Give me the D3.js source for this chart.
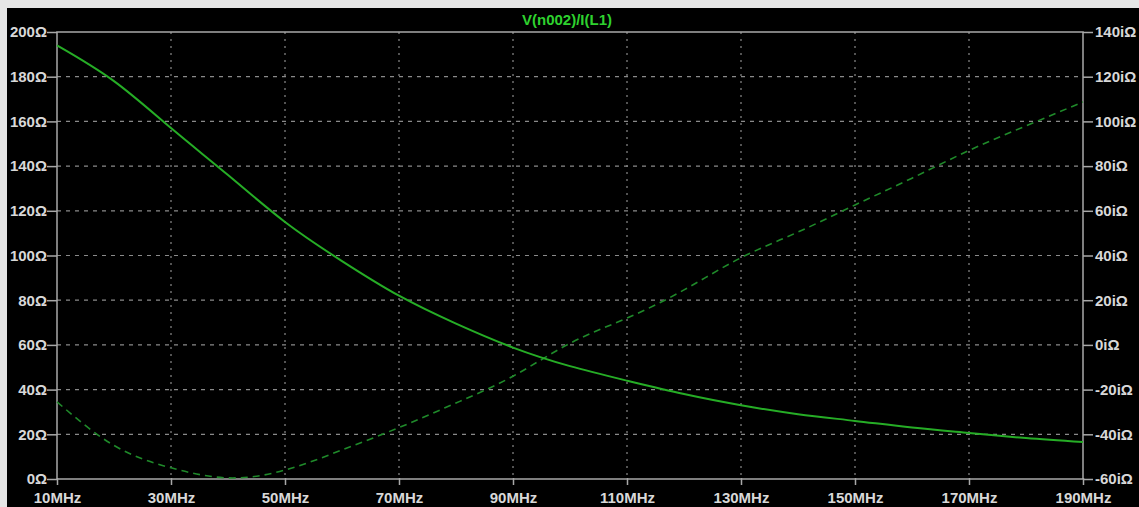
<!DOCTYPE html>
<html>
<head>
<meta charset="utf-8">
<script src="https://cdn.jsdelivr.net/npm/d3@7"></script>
<style>
  html, body { margin: 0; padding: 0; background: #e6e6e6; }
  svg { display: block; }
</style>
</head>
<body>
<svg id="chart" width="1139" height="507"></svg>
<script>
const title = "V(n002)/I(L1)";
const freqMHz = [10, 20, 30, 40, 50, 60, 70, 80, 90, 100, 110, 120, 130, 140, 150, 160, 170, 180, 190];
const magnitudeOhm = [194, 178, 157, 136, 115, 97.5, 82, 69.5, 58.8, 50.5, 44, 38, 33, 29, 26, 23, 20.6, 18.3, 16.5];
const phaseDeg = [-25.5, -45, -55, -59.5, -56, -47, -37, -26, -14, 0.7, 12, 24.6, 39, 50.5, 62.6, 74.6, 87, 98, 108.7];
const xTicks = [10, 30, 50, 70, 90, 110, 130, 150, 170, 190];
const leftTicks = [0, 20, 40, 60, 80, 100, 120, 140, 160, 180, 200];
const rightTicks = [-60, -40, -20, 0, 20, 40, 60, 80, 100, 120, 140];

const W = 1139, H = 507;
const m = { left: 57, right: 1083, top: 32, bottom: 479 };
const svg = d3.select("#chart");

// panel background
svg.append("rect").attr("x", 7).attr("y", 8).attr("width", W - 7).attr("height", H - 8).attr("fill", "#000");

const x = d3.scaleLinear().domain([10, 190]).range([m.left, m.right]);
const yL = d3.scaleLinear().domain([0, 200]).range([m.bottom, m.top]);
const yR = d3.scaleLinear().domain([-60, 140]).range([m.bottom, m.top]);

const gridColor = "#8a8a8a";
const axisColor = "#a8a8a8";
const textColor = "#d8d8d8";
const font = "'Liberation Sans', Arial, sans-serif";

// grid
const grid = svg.append("g");
grid.selectAll("line.v").data(xTicks.slice(1, -1)).join("line")
  .attr("x1", d => x(d)).attr("x2", d => x(d))
  .attr("y1", m.top).attr("y2", m.bottom)
  .attr("stroke", gridColor).attr("stroke-width", 1.2).attr("stroke-dasharray", "2,5");
grid.selectAll("line.h").data(leftTicks.slice(1, -1)).join("line")
  .attr("x1", m.left).attr("x2", m.right)
  .attr("y1", d => yL(d)).attr("y2", d => yL(d))
  .attr("stroke", gridColor).attr("stroke-width", 1.2).attr("stroke-dasharray", "4,5");

// axes
const axB = d3.axisBottom(x).tickValues(xTicks).tickSize(7).tickFormat(d => d + "MHz");
const axL = d3.axisLeft(yL).tickValues(leftTicks).tickSize(10).tickFormat(d => d + "Ω");
const axR = d3.axisRight(yR).tickValues(rightTicks).tickSize(10).tickFormat(d => d + "iΩ");

function style(g) {
  g.select(".domain").remove();
  g.selectAll("line").attr("stroke", axisColor).attr("stroke-width", 1.5);
  g.selectAll("text").attr("fill", textColor).attr("font-family", font)
    .attr("font-size", 15).attr("font-weight", "bold");
}
svg.append("g").attr("transform", `translate(0,${m.bottom})`).call(axB).call(style)
  .call(g => g.selectAll("line").attr("y1", -1).attr("y2", 6))
  .call(g => g.selectAll("text").attr("y", 13));
svg.append("g").attr("transform", `translate(${m.left},0)`).call(axL).call(style)
  .call(g => g.selectAll("text").attr("x", -10));
svg.append("g").attr("transform", `translate(${m.right},0)`).call(axR).call(style)
  .call(g => g.selectAll("text").attr("x", 12));

// frame
svg.append("rect").attr("x", m.left).attr("y", m.top)
  .attr("width", m.right - m.left).attr("height", m.bottom - m.top)
  .attr("fill", "none").attr("stroke", axisColor).attr("stroke-width", 1.5);

// curves
const line = d3.line().curve(d3.curveNatural);
svg.append("path")
  .attr("d", line.x((d, i) => x(freqMHz[i])).y(d => yR(d))(phaseDeg))
  .attr("fill", "none").attr("stroke", "#1f8a2a").attr("stroke-width", 1.6)
  .attr("stroke-dasharray", "7,5");
svg.append("path")
  .attr("d", line.x((d, i) => x(freqMHz[i])).y(d => yL(d))(magnitudeOhm))
  .attr("fill", "none").attr("stroke", "#26ad26").attr("stroke-width", 2);

// title
svg.append("text").attr("x", 567).attr("y", 25).attr("text-anchor", "middle")
  .attr("fill", "#2ed12e").attr("font-family", font).attr("font-size", 15).attr("font-weight", "bold")
  .text(title);
</script>
</body>
</html>
